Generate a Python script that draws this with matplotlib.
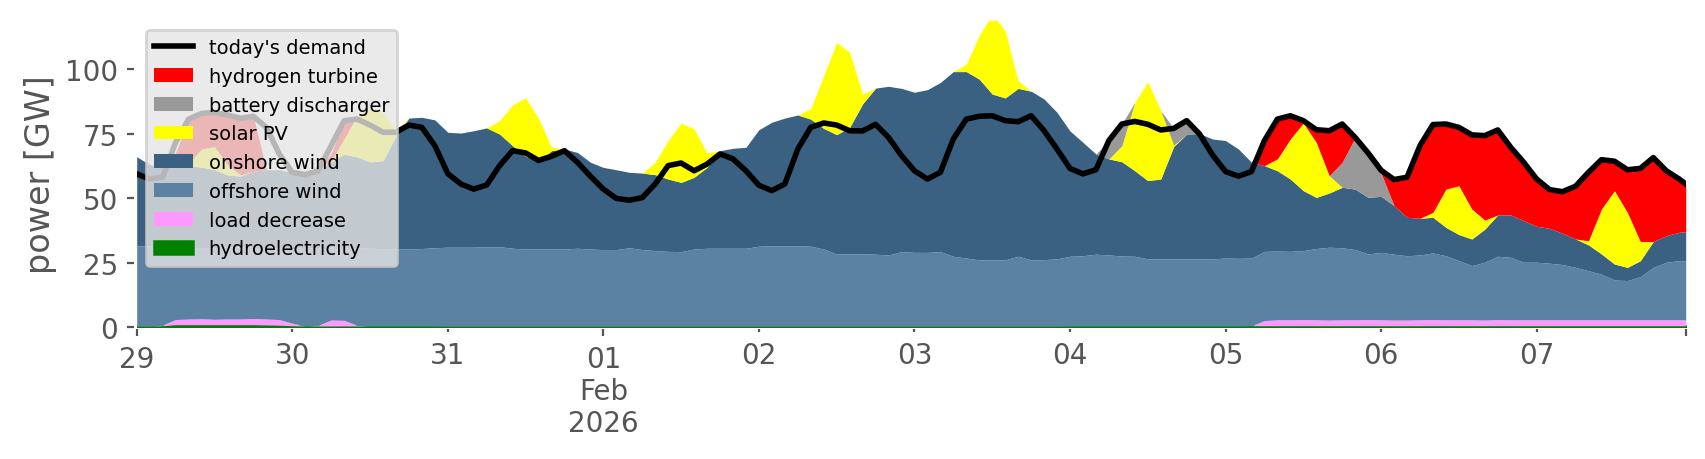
import numpy as np
import pandas as pd
import matplotlib
matplotlib.use("Agg")
import matplotlib.pyplot as plt
import matplotlib.dates as mdates
from matplotlib.ticker import FixedLocator, FixedFormatter

# ---- time axis: 2-hourly samples from 29 Jan 00:00 to 7 Feb 22:00, plus 7 Feb 23:00 ----
times = list(pd.date_range("2026-01-29 00:00", periods=120, freq="2h").to_pydatetime())
times.append(pd.Timestamp("2026-02-07 23:00").to_pydatetime())

# ---- series values [GW], one row per day (12 two-hour samples) + final point ----
hydroelectricity = [
    0.4, 0.4, 0.6, 1.0, 1.0, 1.0, 1.0, 1.0, 1.0, 1.0, 0.9, 0.8,
    0.6, 0.5, 0.5, 0.5, 0.5, 0.5, 0.5, 0.5, 0.5, 0.5, 0.5, 0.5,
    0.4, 0.4, 0.4, 0.4, 0.4, 0.4, 0.4, 0.4, 0.4, 0.4, 0.4, 0.4,
    0.4, 0.4, 0.4, 0.4, 0.4, 0.4, 0.4, 0.4, 0.4, 0.4, 0.4, 0.4,
    0.4, 0.4, 0.4, 0.4, 0.4, 0.4, 0.4, 0.4, 0.4, 0.4, 0.4, 0.4,
    0.4, 0.4, 0.4, 0.4, 0.4, 0.4, 0.4, 0.4, 0.4, 0.4, 0.4, 0.4,
    0.5, 0.5, 0.5, 0.5, 0.5, 0.5, 0.5, 0.5, 0.5, 0.5, 0.5, 0.5,
    0.5, 0.5, 0.6, 0.6, 0.6, 0.6, 0.6, 0.6, 0.6, 0.6, 0.6, 0.6,
    0.6, 0.6, 0.6, 0.6, 0.6, 0.6, 0.6, 0.6, 0.6, 0.6, 0.6, 0.6,
    0.6, 0.6, 0.6, 0.6, 0.6, 0.6, 0.6, 0.6, 0.6, 0.6, 0.6, 0.6,
    0.6,
]
load_decrease = [
    0.0, 0.0, 0.3, 2.0, 2.2, 2.3, 2.1, 2.2, 2.2, 2.4, 2.3, 2.2,
    1.0, 0.0, 0.3, 2.3, 2.2, 0.3, 0.0, 0.0, 0.0, 0.0, 0.0, 0.0,
    0.0, 0.0, 0.0, 0.0, 0.0, 0.0, 0.0, 0.0, 0.0, 0.0, 0.0, 0.0,
    0.0, 0.0, 0.0, 0.0, 0.0, 0.0, 0.0, 0.0, 0.0, 0.0, 0.0, 0.0,
    0.0, 0.0, 0.0, 0.0, 0.0, 0.0, 0.0, 0.0, 0.0, 0.0, 0.0, 0.0,
    0.0, 0.0, 0.0, 0.0, 0.0, 0.0, 0.0, 0.0, 0.0, 0.0, 0.0, 0.0,
    0.0, 0.0, 0.0, 0.0, 0.0, 0.0, 0.0, 0.0, 0.0, 0.0, 0.0, 0.0,
    0.0, 0.0, 0.0, 2.0, 2.3, 2.3, 2.4, 2.3, 2.2, 2.3, 2.3, 2.4,
    2.3, 2.2, 2.2, 2.3, 2.4, 2.3, 2.3, 2.3, 2.2, 2.4, 2.3, 2.3,
    2.3, 2.3, 2.3, 2.3, 2.3, 2.3, 2.3, 2.3, 2.3, 2.3, 2.3, 2.3,
    2.3,
]
offshore_wind = [
    31.1, 31.1, 30.4, 28.0, 27.8, 27.5, 27.7, 27.8, 28.0, 27.6, 27.6, 27.8,
    29.0, 30.1, 30.0, 28.2, 28.3, 30.0, 30.1, 29.9, 29.8, 29.8, 30.0, 30.3,
    30.6, 30.6, 30.6, 30.8, 30.8, 30.2, 29.9, 29.9, 29.9, 29.9, 30.2, 29.9,
    29.7, 29.7, 30.4, 29.7, 29.3, 29.0, 28.9, 29.9, 30.2, 30.2, 30.2, 30.2,
    31.0, 31.1, 31.1, 31.1, 31.0, 29.9, 28.0, 28.0, 28.0, 27.9, 27.6, 28.9,
    28.6, 28.6, 28.9, 27.1, 26.4, 25.7, 25.7, 25.7, 27.1, 25.7, 25.8, 26.1,
    27.0, 27.2, 27.8, 27.5, 27.1, 27.0, 26.0, 26.0, 26.0, 26.0, 26.0, 26.0,
    26.3, 26.2, 26.2, 26.8, 26.6, 26.5, 26.7, 27.6, 28.2, 27.9, 27.2, 25.4,
    26.1, 25.5, 24.9, 25.1, 25.8, 24.8, 22.9, 21.0, 22.4, 24.5, 24.2, 22.3,
    22.3, 21.9, 21.4, 20.3, 19.0, 17.7, 15.4, 15.2, 16.7, 20.3, 22.3, 22.9,
    22.9,
]
onshore_wind = [
    34.5, 31.5, 30.7, 31.5, 31.5, 31.2, 30.2, 28.0, 27.3, 29.5, 30.2, 30.2,
    29.4, 28.9, 30.2, 33.0, 36.0, 35.2, 33.4, 34.1, 43.7, 50.7, 50.8, 49.5,
    44.5, 44.2, 45.1, 46.0, 43.6, 39.7, 35.9, 34.0, 38.1, 38.7, 37.1, 33.6,
    31.8, 30.9, 29.2, 29.6, 29.4, 28.0, 26.8, 27.8, 31.3, 37.8, 38.7, 39.1,
    45.1, 47.9, 49.5, 50.7, 49.2, 46.7, 46.2, 49.0, 58.1, 64.3, 65.3, 63.2,
    62.0, 63.0, 65.5, 71.5, 72.2, 70.0, 64.2, 62.7, 65.0, 65.3, 62.2, 56.7,
    48.5, 43.9, 38.8, 37.2, 36.5, 33.1, 30.3, 30.9, 43.5, 48.3, 48.5, 46.4,
    45.5, 42.3, 37.1, 33.2, 31.1, 28.0, 23.2, 19.8, 21.0, 23.4, 23.4, 21.9,
    21.7, 18.8, 14.9, 14.2, 13.8, 11.0, 10.1, 10.3, 12.8, 16.0, 16.4, 16.1,
    13.9, 13.5, 12.1, 11.0, 10.0, 7.8, 6.2, 5.1, 6.2, 10.0, 10.3, 11.0,
    11.2,
]
solar_pv = [
    0, 0, 0, 0, 1.0, 7.0, 9.0, 4.0, 0.5, 0, 0, 0,
    0, 0, 0, 0.3, 6.0, 16.0, 20.5, 18.5, 2.0, 0, 0, 0,
    0, 0, 0, 0, 5.2, 15.8, 22.7, 16.6, 1.3, 0, 0, 0,
    0, 0, 0, 0, 4.8, 14.9, 23.0, 18.7, 5.5, 0, 0, 0,
    0, 0, 0, 0, 4.1, 20.4, 35.7, 29.1, 3.8, 0, 0, 0,
    0, 0, 0, 0, 2.9, 16.9, 31.0, 26.0, 3.0, 0, 0, 0,
    0, 0, 0, 0, 6.2, 26.5, 38.3, 26.5, 0.5, 0, 0, 0,
    0, 0, 0, 0, 4.6, 15.5, 26.2, 21.3, 6.7, 0, 0, 0,
    0, 0, 0, 0, 1.9, 14.8, 18.9, 11.6, 3.5, 0, 0, 0,
    0, 0, 0, 0, 1.6, 17.4, 28.4, 21.3, 7.4, 0, 0, 0,
    0,
]
battery_discharger = [
    0, 0, 0, 0, 0, 0, 0, 0, 0, 0, 0, 0,
    0, 0, 0, 0, 0, 0, 0, 0, 0, 0, 0, 0,
    0, 0, 0, 0, 0, 0, 0, 0, 0, 0, 0, 0,
    0, 0, 0, 0, 0, 0, 0, 0, 0, 0, 0, 0,
    0, 0, 0, 0, 0, 0, 0, 0, 0, 0, 0, 0,
    0, 0, 0, 0, 0, 0, 0, 0, 0, 0, 0, 0,
    0, 0, 0, 7.1, 8.4, 0, 0, 0, 6.5, 5.2, 0, 0,
    0, 0, 0, 0, 0, 0, 0, 0, 0, 9.7, 20.0, 17.0,
    9.0, 0, 0, 0, 0, 0, 0, 0, 0, 0, 0, 0,
    0, 0, 0, 0, 0, 0, 0, 0, 0, 0, 0, 0,
    0,
]
hydrogen_turbine = [
    0, 0, 0, 5.0, 17.1, 13.8, 13.2, 19.2, 21.9, 21.2, 0, 0,
    0, 0, 0, 3.0, 7.0, 0, 0, 0, 0, 0, 0, 0,
    0, 0, 0, 0, 0, 0, 0, 0, 0, 0, 0, 0,
    0, 0, 0, 0, 0, 0, 0, 0, 0, 0, 0, 0,
    0, 0, 0, 0, 0, 0, 0, 0, 0, 0, 0, 0,
    0, 0, 0, 0, 0, 0, 0, 0, 0, 0, 0, 0,
    0, 0, 0, 0, 0, 0, 0, 0, 0, 0, 0, 0,
    0, 0, 0, 9.7, 15.4, 9.0, 0.9, 4.9, 17.4, 14.8, 0, 0.2,
    1.1, 10.1, 15.5, 28.1, 34.0, 25.2, 22.6, 28.7, 32.7, 32.9, 26.2, 22.6,
    18.3, 15.0, 16.1, 20.4, 26.5, 19.1, 11.4, 16.5, 28.3, 32.5, 25.1, 20.6,
    18.5,
]
todays_demand = [
    59.4, 57.4, 58.1, 71.6, 80.6, 82.8, 83.2, 82.2, 80.9, 81.7, 77.4, 67.1,
    60.0, 59.1, 60.6, 70.3, 80.0, 80.6, 78.3, 75.5, 75.5, 78.3, 77.4, 70.3,
    59.5, 55.5, 53.5, 55.1, 62.6, 68.4, 67.5, 64.6, 66.2, 68.4, 63.9, 58.5,
    53.5, 49.9, 49.2, 50.2, 55.5, 62.6, 63.6, 60.6, 63.2, 67.1, 65.2, 60.6,
    55.0, 52.9, 55.5, 69.0, 77.4, 79.1, 78.3, 76.1, 76.0, 78.6, 73.5, 66.5,
    60.6, 57.4, 60.0, 72.9, 80.6, 81.7, 81.9, 80.0, 79.6, 81.9, 76.1, 69.0,
    61.5, 59.4, 61.0, 72.3, 78.7, 79.7, 78.6, 76.4, 77.0, 80.0, 74.8, 66.7,
    60.3, 58.5, 60.3, 72.3, 80.6, 81.9, 80.0, 76.5, 76.1, 78.7, 73.5, 67.5,
    60.8, 57.2, 58.1, 70.3, 78.5, 78.7, 77.4, 74.5, 74.2, 76.4, 69.7, 63.9,
    57.4, 53.3, 52.5, 54.6, 60.0, 64.9, 64.3, 61.0, 61.5, 65.7, 60.6, 57.4,
    55.5,
]

stack_labels = ["hydroelectricity", "load decrease", "offshore wind", "onshore wind",
                "solar PV", "battery discharger", "hydrogen turbine"]
stack_values = [hydroelectricity, load_decrease, offshore_wind, onshore_wind,
                solar_pv, battery_discharger, hydrogen_turbine]
stack_colors = ["#008000", "#FF99FF", "#5C82A3", "#3B6182",
                "#FFFF00", "#999999", "#FF0000"]

major_days = ["2026-01-29 00:00", "2026-02-01 00:00", "2026-02-07 23:00"]
major_labels = ["29", "01\nFeb\n2026", ""]
minor_days = ["2026-01-30 00:00", "2026-01-31 00:00", "2026-02-02 00:00", "2026-02-03 00:00",
              "2026-02-04 00:00", "2026-02-05 00:00", "2026-02-06 00:00", "2026-02-07 00:00"]
minor_labels = ["30", "31", "02", "03", "04", "05", "06", "07"]


def to_num(strings):
    return mdates.date2num([pd.Timestamp(s).to_pydatetime() for s in strings])


# ---- figure ----
grey = "#555555"
fig = plt.figure(figsize=(8.53, 2.30), dpi=200)
ax = fig.add_axes([136.7 / 1706, (460 - 328.3) / 460, 1549.0 / 1706, 306.6 / 460])
ax.set_facecolor("white")

x = mdates.date2num(times)
polys = ax.stackplot(x, *[np.array(v, dtype=float) for v in stack_values],
                     colors=stack_colors, labels=stack_labels, linewidth=0)
for p, c in zip(polys, stack_colors):
    p.set_edgecolor(c)
    p.set_linewidth(0)
polys[0].set_linewidth(0.9)  # thin hydro band is visible as a green line at the bottom

line, = ax.plot(x, todays_demand, color="black", lw=2.0, label="today's demand",
                zorder=5, solid_joinstyle="round")

ax.set_xlim(x[0], x[-1])
ax.set_ylim(0, 118.7)
ax.set_yticks([0, 25, 50, 75, 100])

ax.xaxis.set_major_locator(FixedLocator(to_num(major_days)))
ax.xaxis.set_major_formatter(FixedFormatter(major_labels))
ax.xaxis.set_minor_locator(FixedLocator(to_num(minor_days)))
ax.xaxis.set_minor_formatter(FixedFormatter(minor_labels))

for s in ax.spines.values():
    s.set_color("none")
ax.spines["left"].set_position(("outward", 1.0))
ax.spines["bottom"].set_position(("outward", 0.6))

ax.tick_params(axis="both", which="major", length=2.6, width=0.8, color=grey,
               labelcolor=grey, labelsize=10, pad=3)
ax.tick_params(axis="x", which="minor", length=1.2, width=0.8, color=grey,
               labelcolor=grey, labelsize=10, pad=3)
ax.grid(False)

ax.set_ylabel("power [GW]", fontsize=12, color=grey, labelpad=3)

handles = [line] + list(polys[::-1])
labels = ["today's demand"] + stack_labels[::-1]
leg = ax.legend(handles, labels, loc="upper left", fontsize=7, framealpha=0.8,
                facecolor="#E5E5E5", edgecolor="0.8", labelspacing=0.5)
leg.set_zorder(10)

fig.savefig("out.png", dpi=200)
